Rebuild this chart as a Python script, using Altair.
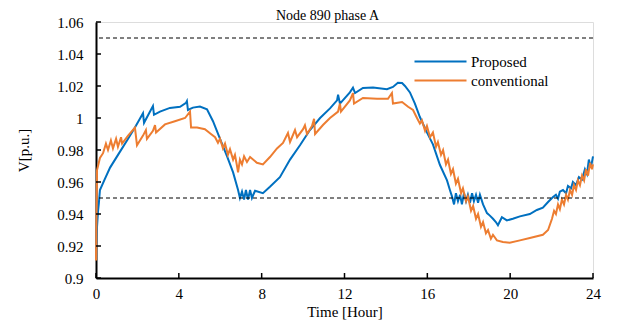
import altair as alt
import pandas as pd

# ---- data ----
hours_proposed = [0.00, 0.05, 0.10, 0.14, 0.19, 0.43, 0.68, 1.16, 1.55, 1.88, 2.27, 2.32, 2.75, 2.80,
                  3.09, 3.57, 4.06, 4.35, 4.39, 4.44, 4.68, 5.02, 5.36, 5.65, 5.99, 6.33, 6.62, 6.86,
                  6.95, 7.05, 7.15, 7.24, 7.34, 7.44, 7.53, 7.68, 8.06, 8.40, 8.88, 9.37, 9.85, 10.33,
                  10.82, 11.30, 11.64, 11.69, 11.78, 12.26, 12.41, 12.51, 12.89, 13.38, 14.05, 14.34,
                  14.58, 14.78, 14.92, 15.16, 15.40, 15.64, 15.98, 16.27, 16.61, 16.95, 17.09, 17.19,
                  17.29, 17.38, 17.48, 17.58, 17.67, 17.77, 17.87, 17.96, 18.06, 18.16, 18.25, 18.35,
                  18.45, 18.54, 18.69, 18.88, 19.02, 19.17, 19.31, 19.41, 19.60, 19.84, 20.13, 20.47,
                  20.95, 21.29, 21.58, 21.83, 22.07, 22.21, 22.31, 22.40, 22.55, 22.70, 22.79, 22.94,
                  23.03, 23.18, 23.32, 23.47, 23.61, 23.71, 23.80, 23.90, 24.00]
v_proposed = [0.918, 0.932, 0.942, 0.947, 0.955, 0.962, 0.969, 0.979, 0.987, 0.994, 1.003, 0.997,
              1.0075, 1.002, 1.004, 1.0063, 1.007, 1.0095, 1.0105, 1.005, 1.0065, 1.0072, 1.0055,
              0.998, 0.987, 0.976, 0.966, 0.955, 0.950, 0.954, 0.949, 0.955, 0.949, 0.955, 0.950,
              0.9545, 0.953, 0.957, 0.963, 0.974, 0.983, 0.9925, 1.000, 1.006, 1.011, 1.0145, 1.009,
              1.016, 1.019, 1.0156, 1.0188, 1.019, 1.018, 1.0194, 1.022, 1.0219, 1.020, 1.016, 1.009,
              1.0006, 0.991, 0.9835, 0.9706, 0.961, 0.955, 0.951, 0.946, 0.953, 0.948, 0.952, 0.946,
              0.953, 0.948, 0.952, 0.947, 0.953, 0.948, 0.952, 0.947, 0.952, 0.946, 0.9406, 0.939,
              0.937, 0.935, 0.933, 0.938, 0.936, 0.937, 0.9385, 0.940, 0.9425, 0.944, 0.9475, 0.9506,
              0.952, 0.9495, 0.954, 0.955, 0.953, 0.9575, 0.956, 0.960, 0.958, 0.963, 0.9615, 0.968,
              0.965, 0.974, 0.969, 0.976]

hours_conv = [0.00, 0.05, 0.19, 0.34, 0.48, 0.58, 0.72, 0.82, 0.97, 1.06, 1.21, 1.26, 1.55, 1.88,
              1.98, 2.27, 2.41, 2.46, 2.75, 2.85, 2.90, 3.33, 3.81, 4.30, 4.54, 4.59, 4.88, 5.26,
              5.55, 5.75, 5.89, 5.99, 6.13, 6.23, 6.37, 6.47, 6.62, 6.71, 6.81, 6.86, 6.95, 7.05,
              7.15, 7.29, 7.44, 7.77, 8.06, 8.40, 8.74, 9.03, 9.27, 9.37, 9.61, 9.71, 10.00, 10.09,
              10.19, 10.43, 10.53, 10.58, 10.96, 11.30, 11.69, 11.78, 11.83, 12.26, 12.41, 12.46,
              12.89, 13.57, 14.10, 14.29, 14.34, 14.78, 15.07, 15.31, 15.50, 15.64, 15.74, 15.89,
              15.98, 16.13, 16.27, 16.42, 16.51, 16.66, 16.76, 16.90, 17.00, 17.14, 17.24, 17.38,
              17.48, 17.63, 17.72, 17.87, 17.96, 18.11, 18.21, 18.35, 18.45, 18.59, 18.69, 18.83,
              18.93, 19.07, 19.17, 19.36, 19.65, 19.98, 20.47, 20.95, 21.58, 21.83, 22.02, 22.12,
              22.21, 22.31, 22.40, 22.50, 22.60, 22.70, 22.79, 22.89, 22.99, 23.08, 23.18, 23.27,
              23.37, 23.47, 23.57, 23.66, 23.76, 23.86, 23.95, 24.00]
v_conv = [0.911, 0.9675, 0.975, 0.978, 0.984, 0.980, 0.986, 0.981, 0.987, 0.982, 0.988, 0.984,
          0.989, 0.994, 0.983, 0.989, 0.9925, 0.987, 0.992, 0.9955, 0.991, 0.996, 0.998, 1.000,
          1.004, 0.994, 0.994, 0.993, 0.990, 0.988, 0.9845, 0.987, 0.981, 0.984, 0.977, 0.9805,
          0.974, 0.977, 0.970, 0.966, 0.974, 0.971, 0.976, 0.9725, 0.9756, 0.972, 0.971, 0.9756,
          0.981, 0.9844, 0.9906, 0.985, 0.9925, 0.988, 0.993, 0.9955, 0.990, 0.995, 0.9995, 0.990,
          0.9956, 1.000, 1.004, 1.009, 1.004, 1.011, 1.0156, 1.009, 1.0125, 1.012, 1.012, 1.0156,
          1.009, 1.010, 1.007, 1.005, 1.000, 0.9965, 0.9985, 0.992, 0.995, 0.988, 0.991, 0.982,
          0.985, 0.977, 0.980, 0.971, 0.974, 0.965, 0.968, 0.959, 0.962, 0.953, 0.956, 0.948,
          0.951, 0.942, 0.945, 0.937, 0.940, 0.932, 0.935, 0.928, 0.930, 0.9245, 0.927, 0.9235,
          0.9225, 0.922, 0.9235, 0.925, 0.927, 0.930, 0.937, 0.942, 0.940, 0.946, 0.943, 0.949,
          0.946, 0.952, 0.949, 0.955, 0.952, 0.958, 0.955, 0.961, 0.958, 0.964, 0.961, 0.968,
          0.964, 0.972, 0.968, 0.971]

series_names = ["Proposed", "conventional"]
series_colors = ["#0070C0", "#ED7D31"]
limits = [0.95, 1.05]
x_ticks = [0, 4, 8, 12, 16, 20, 24]
y_ticks = [0.90, 0.92, 0.94, 0.96, 0.98, 1.00, 1.02, 1.04, 1.06]

df = pd.concat([
    pd.DataFrame({"hour": hours_proposed, "v": v_proposed, "series": series_names[0]}),
    pd.DataFrame({"hour": hours_conv, "v": v_conv, "series": series_names[1]}),
], ignore_index=True)

FONT = "Liberation Serif"
FS = 15

x_scale = alt.Scale(domain=[0, 24], nice=False, zero=False)
y_scale = alt.Scale(domain=[0.9, 1.06], nice=False, zero=False)

x_axis = alt.Axis(values=x_ticks, ticks=False, grid=False, domainColor="black", domainWidth=2,
                  labelFont=FONT, labelFontSize=FS, labelColor="black", labelPadding=8,
                  labelOverlap=False, labelFlush=False,
                  title="Time [Hour]", titleFont=FONT, titleFontSize=FS, titleFontWeight="normal",
                  titleColor="black", titlePadding=3)
y_axis = alt.Axis(values=y_ticks, ticks=False, grid=False, domainColor="black", domainWidth=2,
                  labelFont=FONT, labelFontSize=FS, labelColor="black", labelPadding=13,
                  labelOverlap=False, labelFlush=False,
                  labelExpr="format(datum.value, '~g')",
                  title="V[p.u.]", titleFont=FONT, titleFontSize=FS, titleFontWeight="normal",
                  titleColor="black", titlePadding=25)

legend = alt.Legend(orient="none", legendX=311, legendY=32, title=None,
                    symbolType="M-26,0H26", symbolSize=4, symbolStrokeWidth=2,
                    symbolOffset=26, labelOffset=23, labelFont=FONT, labelFontSize=FS,
                    labelColor="black", rowPadding=3, padding=0)

lines = alt.Chart(df).mark_line(strokeWidth=2).encode(
    x=alt.X("hour:Q", scale=x_scale, axis=x_axis),
    y=alt.Y("v:Q", scale=y_scale, axis=y_axis),
    color=alt.Color("series:N", scale=alt.Scale(domain=series_names, range=series_colors),
                    legend=legend),
    order=alt.Order("hour:Q"),
)

lim = alt.Chart(pd.DataFrame({"lim": limits})).mark_rule(
    color="black", strokeWidth=1, strokeDash=[4, 3]
).encode(y=alt.Y("lim:Q", scale=y_scale, axis=y_axis))

yt = alt.Chart(pd.DataFrame({"t": y_ticks})).mark_rule(color="black", strokeWidth=1.5).encode(
    y=alt.Y("t:Q", scale=y_scale, axis=y_axis), x=alt.value(0), x2=alt.value(5))
xt = alt.Chart(pd.DataFrame({"t": x_ticks})).mark_rule(color="black", strokeWidth=1.5).encode(
    x=alt.X("t:Q", scale=x_scale, axis=x_axis), y=alt.value(256), y2=alt.value(251))

chart = alt.layer(lines, lim, yt, xt).properties(
    width=497, height=256,
    autosize="none",
    padding={"left": 88, "top": 14, "right": 18, "bottom": 48},
    title=alt.TitleParams("Node 890 phase A", font=FONT, fontSize=14, fontWeight="normal",
                          color="black", offset=6, dx=-17, dy=14),
).configure_view(stroke="#333333", strokeWidth=1).configure(background="white")

chart.save("out.html", embed_options={"renderer": "svg", "actions": False})
